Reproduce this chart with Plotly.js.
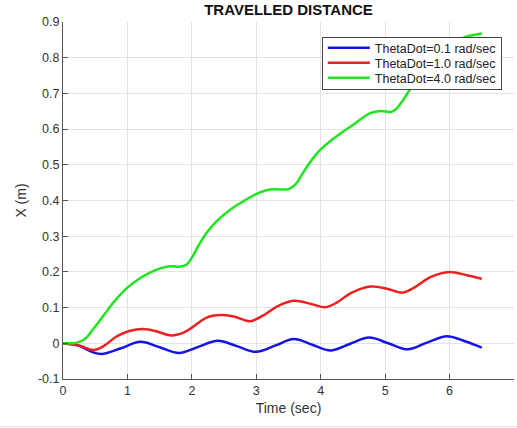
<!DOCTYPE html>
<html>
<head>
<meta charset="utf-8">
<script src="https://cdn.plot.ly/plotly-3.0.1.min.js"></script>
<style>
html,body{margin:0;padding:0;background:#fff;}
#chart{width:517px;height:428px;}
</style>
</head>
<body>
<div id="chart"></div>
<script>
// Series
const blueT = [0, 0.25, 0.45, 0.6, 0.9, 1.2, 1.5, 1.8, 2.1, 2.4, 2.7, 3.0, 3.3, 3.58, 3.87, 4.15, 4.45, 4.75, 5.05, 5.35, 5.65, 5.96, 6.25, 6.5];
const blueX = [0, -0.007, -0.024, -0.030, -0.014, 0.004, -0.011, -0.027, -0.010, 0.007, -0.008, -0.024, -0.006, 0.012, -0.004, -0.020, -0.002, 0.016, 0.000, -0.017, 0.002, 0.020, 0.005, -0.012];

const redT = [0, 0.26, 0.47, 0.63, 0.83, 1.04, 1.25, 1.46, 1.68, 1.87, 2.0, 2.23, 2.44, 2.65, 2.9, 3.11, 3.32, 3.58, 3.84, 4.07, 4.25, 4.46, 4.77, 5.03, 5.27, 5.45, 5.71, 6.0, 6.28, 6.5];
const redX = [0, -0.007, -0.019, -0.008, 0.019, 0.035, 0.040, 0.033, 0.022, 0.030, 0.044, 0.072, 0.079, 0.075, 0.062, 0.078, 0.103, 0.119, 0.111, 0.101, 0.114, 0.140, 0.159, 0.153, 0.142, 0.156, 0.186, 0.200, 0.190, 0.181];

const greenT = [0, 0.12, 0.22, 0.34, 0.47, 0.63, 0.8, 1.0, 1.2, 1.35, 1.51, 1.66, 1.82, 1.92, 2.0, 2.13, 2.23, 2.39, 2.6, 2.8, 3.06, 3.22, 3.37, 3.5, 3.61, 3.71, 3.81, 3.92, 4.0, 4.18, 4.35, 4.51, 4.77, 4.93, 5.09, 5.16, 5.27, 5.37, 5.47, 5.6, 5.8, 6.0, 6.2, 6.35, 6.5];
const greenX = [0, 0.0, 0.002, 0.012, 0.040, 0.078, 0.118, 0.156, 0.183, 0.198, 0.210, 0.216, 0.215, 0.221, 0.240, 0.282, 0.310, 0.343, 0.375, 0.398, 0.423, 0.431, 0.431, 0.432, 0.445, 0.473, 0.501, 0.527, 0.543, 0.571, 0.593, 0.613, 0.645, 0.651, 0.648, 0.655, 0.679, 0.707, 0.739, 0.768, 0.805, 0.833, 0.855, 0.863, 0.868];

const seriesNames = ['ThetaDot=0.1 rad/sec', 'ThetaDot=1.0 rad/sec', 'ThetaDot=4.0 rad/sec'];
const seriesColors = ['#1414e6', '#ec2020', '#1ee61e'];

const xTickVals = [0, 1, 2, 3, 4, 5, 6, 7];
const xTickText = ['0', '1', '2', '3', '4', '5', '6', '7'];
const yTickVals = [-0.1, 0, 0.1, 0.2, 0.3, 0.4, 0.5, 0.6, 0.7, 0.8, 0.9];
const yTickText = ['-0.1', '0', '0.1', '0.2', '0.3', '0.4', '0.5', '0.6', '0.7', '0.8', '0.9'];

const FONT = 'Liberation Sans, Arial, Helvetica, sans-serif';

const xs = [blueT, redT, greenT];
const ys = [blueX, redX, greenX];
const traces = xs.map((t, i) => ({
  x: t, y: ys[i], type: 'scatter', mode: 'lines', name: seriesNames[i],
  line: {color: seriesColors[i], width: 2.5, shape: 'spline', smoothing: 1}
}));

const axisCommon = {
  showline: true, linecolor: '#555', linewidth: 1,
  ticks: 'inside', ticklen: 5, tickcolor: '#555', tickwidth: 1,
  showgrid: true, gridcolor: '#e3e3e3', gridwidth: 1,
  zeroline: false, mirror: false,
  tickfont: {family: FONT, size: 12.5, color: '#333'},
  tickmode: 'array'
};

const layout = {
  width: 517, height: 428,
  margin: {l: 63, r: 3, t: 22, b: 49},
  paper_bgcolor: '#fff', plot_bgcolor: '#fff',
  font: {family: FONT, color: '#333'},
  title: {text: '<b>TRAVELLED DISTANCE</b>', font: {family: FONT, size: 15, color: '#111'},
          xref: 'paper', x: 0.5, xanchor: 'center', yref: 'container', y: 0.978, yanchor: 'middle'},
  xaxis: Object.assign({}, axisCommon, {
    range: [0, 7], tickvals: xTickVals, ticktext: xTickText,
    title: {text: 'Time (sec)', font: {family: FONT, size: 14, color: '#333'}, standoff: 6}
  }),
  yaxis: Object.assign({}, axisCommon, {
    range: [-0.1, 0.9], tickvals: yTickVals, ticktext: yTickText,
    title: {text: 'X (m)', font: {family: FONT, size: 14, color: '#333'}, standoff: 8}
  }),
  showlegend: true,
  legend: {
    x: 0.973, xanchor: 'right', y: 0.959, yanchor: 'top',
    bgcolor: '#fff', bordercolor: '#444', borderwidth: 1,
    font: {family: FONT, size: 12.5, color: '#222'},
    itemwidth: 42, tracegroupgap: 0
  },
  shapes: [{
    type: 'line', xref: 'paper', yref: 'paper',
    x0: -63/451, x1: 1 + 3/451, y0: -47.5/357, y1: -47.5/357,
    line: {color: '#e4e4e4', width: 1}
  }],
  hovermode: false
};

const gd = document.getElementById('chart');
Plotly.newPlot(gd, traces, layout, {displayModeBar: false, staticPlot: true}).then(function () {
  // tighten legend rows to match the compact MATLAB legend
  try {
    const leg = gd.querySelector('g.legend');
    if (!leg) return;
    const items = leg.querySelectorAll('g.traces');
    const pos = [];
    items.forEach(function (el) {
      const m = /translate\(\s*([-\d.e]+)[ ,]+([-\d.e]+)\s*\)/.exec(el.getAttribute('transform') || '');
      pos.push(m ? [parseFloat(m[1]), parseFloat(m[2])] : null);
    });
    if (pos.some(function (p) { return !p; })) return;
    const top = 11, gap = 15;
    items.forEach(function (el, i) {
      el.setAttribute('transform', 'translate(' + pos[i][0] + ',' + (top + i * gap) + ')');
    });
    const newH = top * 2 + gap * (items.length - 1);
    const bg = leg.querySelector('rect.bg');
    if (bg) bg.setAttribute('height', newH);
    document.querySelectorAll('clipPath[id^="legend"] rect').forEach(function (r) { r.setAttribute('height', newH); });
  } catch (e) {}
});
</script>
</body>
</html>
